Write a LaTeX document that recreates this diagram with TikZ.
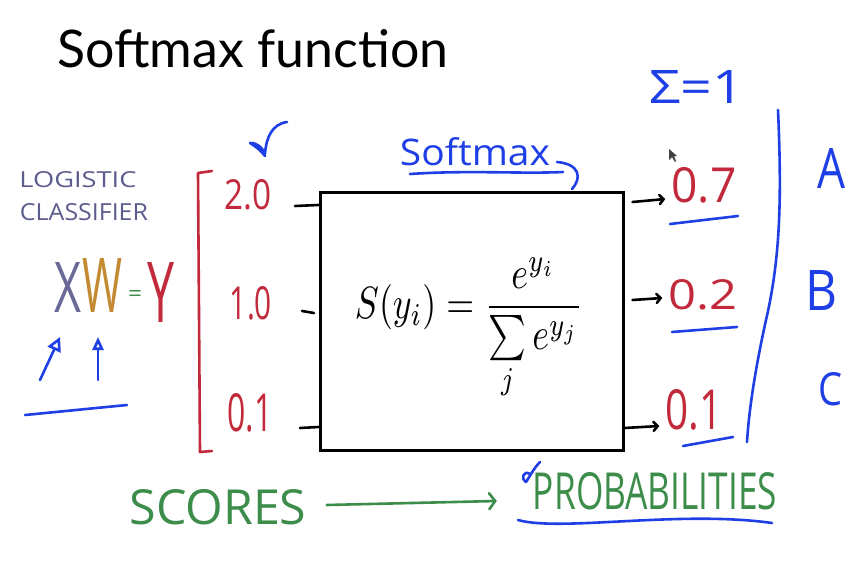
\documentclass[tikz,border=0pt]{standalone}
\usepackage{graphicx}
\usepackage{fontspec}
\setmainfont{Open Sans}
\newfontfamily\titlefont{Lato}
\usetikzlibrary{arrows.meta}
\definecolor{hred}{HTML}{C22A3C}
\definecolor{hblue}{HTML}{1F3FE6}
\definecolor{hgreen}{HTML}{3C8C4A}
\definecolor{hslate}{HTML}{5C5C8E}
\definecolor{horange}{HTML}{C48A32}
\definecolor{hgrey}{HTML}{6A6A98}
\tikzset{
  pen/.style={line width=2.6pt, line cap=round, line join=round},
  txt/.style={inner sep=0pt},
  redtxt/.style={text=hred, inner sep=0pt},
  bluetxt/.style={text=hblue, inner sep=0pt},
  greentxt/.style={text=hgreen, inner sep=0pt},
  curl/.style={-{Straight Barb[length=4pt,width=9pt,line cap=round]}},
}
\begin{document}
\begin{tikzpicture}[x=1pt,y=-1pt]
\useasboundingbox[fill=white] (0,0) rectangle (865,578);

% title
\node[anchor=base west, txt, font=\titlefont\fontsize{52}{56}\selectfont] (title) at (57,68) {\resizebox{391pt}{!}{Softmax function}};

% logistic classifier
\node[txt, text=hslate] (logi) at (78,180) {\resizebox{117pt}{16pt}{LOGISTIC}};
\node[txt, text=hslate] (clas) at (84,212) {\resizebox{128pt}{17pt}{CLASSIFIER}};
\node[txt, text=hgrey] (X) at (68,287) {\resizebox{27pt}{50pt}{X}};
\node[txt, text=horange] (W) at (102,285) {\resizebox{40pt}{54pt}{W}};
\node[txt, text=hgreen] (eq) at (135,296) {\resizebox{14pt}{11pt}{=}};
\node[txt, text=hred] (Y) at (161,292) {\resizebox{27pt}{60pt}{Y}};
\coordinate (xa1) at (40,380); \coordinate (xa2) at (60,337);
\coordinate (wa1) at (98,380); \coordinate (wa2) at (98,337);
\draw[pen, hblue, -{Triangle[open,length=14pt,width=14pt]}] (xa1) -- (xa2);
\draw[pen, hblue, -{Triangle[open,length=13pt,width=11pt]}] (wa1) -- (wa2);
\coordinate (ul1) at (25,415); \coordinate (ul2) at (127,405);
\draw[pen, hblue] (ul1) -- (ul2);

% red bracket and scores
\coordinate (b1) at (212,171); \coordinate (b2) at (198,173);
\coordinate (b3) at (200,452); \coordinate (b4) at (212,451);
\draw[pen, hred] (b1) -- (b2) -- (b3) -- (b4);
\node[redtxt] (s1) at (248,195) {\resizebox{47pt}{30pt}{2.0}};
\node[redtxt] (s2) at (251,303) {\resizebox{42pt}{33pt}{1.0}};
\node[redtxt] (s3) at (250,413) {\resizebox{45pt}{38pt}{0.1}};

% mark above 2.0
\draw[pen, hblue] (287,122) .. controls (272,124) and (266,138) .. (265,154)
  .. controls (262,146) and (254,142) .. (250,143) .. controls (258,148) and (262,152) .. (265,156);

% box
\node[draw, line width=3pt, minimum width=303pt, minimum height=258pt, inner sep=0pt] (box) at (471.5,321.5) {};
\draw[line width=2.6pt, line cap=round] (295,206) -- (box.west |- 0,205);
\draw[line width=2.6pt, line cap=round] (302,311) -- (314,313);
\draw[line width=2.6pt, line cap=round] (300,428) -- (box.west |- 0,427);

% formula
\node[txt] (form) at (469,329)
  {\resizebox*{228pt}{142pt}{$\displaystyle S(y_i) = \frac{e^{y_i}}{\sum\limits_j e^{y_j}}$}};

% Softmax label
\node[bluetxt] (smx) at (475,152) {\resizebox{150pt}{28pt}{Softmax}};
\coordinate (su1) at (410,174); \coordinate (su2) at (563,172);
\draw[pen, hblue] (su1) .. controls (470,170) and (520,174) .. (su2);
\draw[pen, hblue] (557,162) .. controls (580,164) and (582,178) .. (572,189);

% outputs
\node[redtxt] (o1) at (704,185) {\resizebox{65pt}{35pt}{0.7}};
\node[redtxt] (o2) at (703,295) {\resizebox{69pt}{30pt}{0.2}};
\node[redtxt] (o3) at (694,410) {\resizebox{57pt}{40pt}{0.1}};
\draw[pen, curl] (box.east |- 0,202) ++(8,0) -- ([xshift=-6pt]o1.west |- 0,199);
\draw[pen, curl] (box.east |- 0,300) ++(8,0) -- ([xshift=-6pt]o2.west |- 0,298);
\draw[pen, curl] (box.east |- 0,428) -- ([xshift=-6pt]o3.west |- 0,426);
\draw[pen, hblue] (670,224) -- (738,216);
\draw[pen, hblue] (672,332) -- (737,327);
\draw[pen, hblue] (683,446) -- (733,437);

% sum = 1
\node[bluetxt] (sum) at (697,87) {\resizebox{95pt}{33pt}{Σ=1}};
\coordinate (r1) at (778,110); \coordinate (r2) at (747,442);
\draw[pen, hblue] (r1) .. controls (782,200) and (780,260) .. (766,320) .. controls (755,370) and (749,410) .. (r2);
\node[bluetxt] (A) at (831,168) {\resizebox{28pt}{40pt}{A}};
\node[bluetxt] (B) at (821,290) {\resizebox{32pt}{40pt}{B}};
\node[bluetxt] (C) at (830,389) {\resizebox{24pt}{33pt}{C}};

% cursor
\fill[black!75] (669,149) -- (669,160) -- (672,157) -- (675,162) -- (676,161) -- (674,156) -- (677,156) -- cycle;

% bottom
\node[greentxt] (scores) at (218,507) {\resizebox{177pt}{35pt}{SCORES}};
\node[greentxt] (prob) at (655,491) {\resizebox{244pt}{37pt}{PROBABILITIES}};
\draw[pen, hgreen, -{Straight Barb[length=6pt,width=16pt,line cap=round]}] ([xshift=20pt]scores.east |- 0,505) -- ([xshift=-36pt]prob.west |- 0,501);
\draw[pen, hblue] (518,520) .. controls (560,532) and (680,510) .. (772,523);
\draw[pen, hblue] (540,462) .. controls (534,468) and (530,476) .. (526,482) .. controls (520,478) and (524,470) .. (530,474);
\end{tikzpicture}
\end{document}
